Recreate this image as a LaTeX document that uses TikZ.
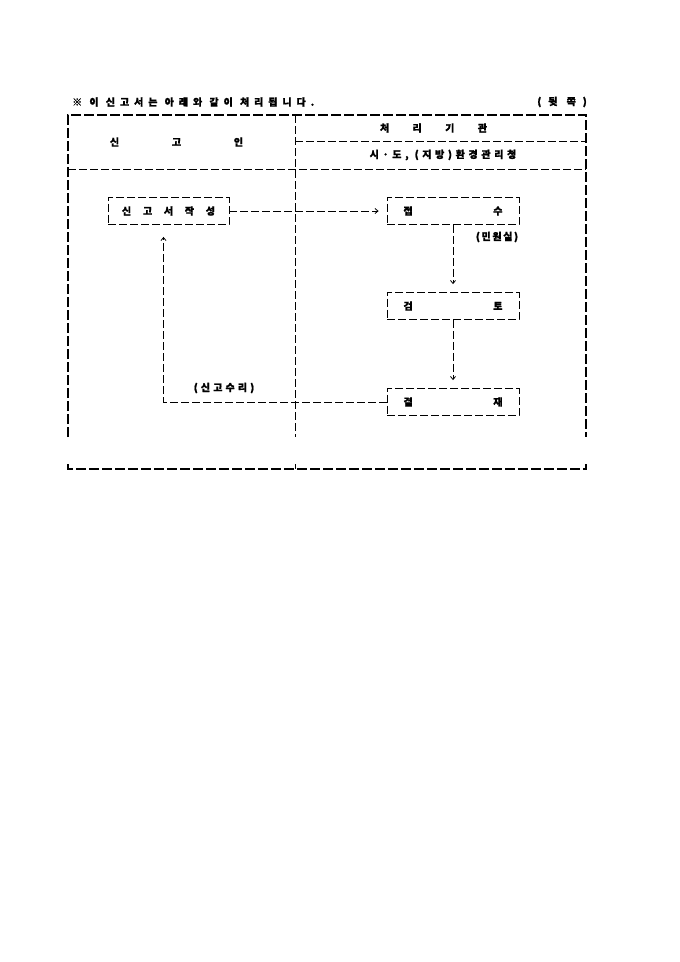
\documentclass[tikz,border=0pt]{standalone}
\usepackage{fontspec}
\newfontfamily\krn{Noto Sans CJK KR}[FakeBold=1.2]
\usetikzlibrary{arrows.meta,calc}
\begin{document}
\begin{tikzpicture}[x=1bp,y=-1bp,
  framest/.style={line width=1.7bp, dash pattern=on 10bp off 3bp},
  thinst/.style={line width=0.8bp, dash pattern=on 8bp off 3bp},
  boxst/.style={draw, line width=0.8bp, dash pattern=on 8bp off 3bp, minimum width=132bp, minimum height=27bp, inner sep=0pt, font=\krn\bfseries\fontsize{10}{12}\selectfont},
  lbl/.style={font=\krn\bfseries\fontsize{10}{12}\selectfont\addfontfeatures{LetterSpace=#1}, inner sep=0pt},
  lbn/.style={font=\krn\bfseries\fontsize{10}{12}\selectfont, inner sep=0pt},
  flow/.style={line width=0.8bp, dash pattern=on 8bp off 3bp, -{Straight Barb[length=3bp,width=5bp]}}]
\useasboundingbox (0,0) rectangle (680,962);
\fill[white] (0,0) rectangle (680,962);
% frame coordinates
\coordinate (TL) at (68,115);
\coordinate (TR) at (586,115);
\coordinate (LE) at (68,437);
\coordinate (RE) at (586,437);
\coordinate (BLt) at (68,464);
\coordinate (BL) at (68,469);
\coordinate (BR) at (586,469);
\coordinate (BRt) at (586,464);
\coordinate (MT) at (295,115);
\coordinate (ME) at (295,437);
\coordinate (MBt) at (295,464);
\coordinate (MB) at (295,469);
\coordinate (HS1) at (295,141);
\coordinate (HS2) at (586,141);
\coordinate (HB1) at (68,169);
\coordinate (HB2) at (586,169);
% frame
\draw[framest] (LE) -- (TL) -- (TR) -- (RE);
\draw[framest] (BLt) -- (BL) -- (BR) -- (BRt);
\draw[line width=0.8bp] (MBt) -- (MB);
\draw[thinst] (MT) -- (ME);
\draw[thinst] (HS1) -- (HS2);
\draw[thinst] (HB1) -- (HB2);
% texts
\node[lbl=50, anchor=west] (title) at (72,102) {※ 이 신고서는 아래와 같이 처리됩니다.};
\node[lbl=70, anchor=east] (side) at (587,102) {(뒷 쪽)};
\node[lbn] (hdrL) at (176.5,142) {\makebox[133bp][s]{신 고 인}};
\node[lbn] (hdrR) at (433.5,128) {\makebox[107bp][s]{처 리 기 관}};
\node[lbl=37] (hdrR2) at (443,155) {시·도, (지방)환경관리청};
% boxes
\node[boxst, minimum width=121bp] (write) at (168.5,211) {\makebox[93bp][s]{신 고 서 작 성}};
\node[boxst] (recv) at (453,211) {\makebox[99bp][s]{접 수}};
\node[boxst] (review) at (453,306) {\makebox[99bp][s]{검 토}};
\node[boxst] (approve) at (453,402) {\makebox[99bp][s]{결 재}};
\node[lbl=17] (office) at (497,237) {(민원실)};
\node[lbl=32] (accept) at (224,388) {(신고수리)};
% connectors
\draw[flow, shorten >=8bp] (write) -- (recv);
\draw[flow, shorten >=8bp] (recv) -- (review);
\draw[flow, shorten >=8bp] (review) -- (approve);
\draw[flow, shorten >=12bp] (approve.west) -| ([xshift=-5bp]write.south);
\end{tikzpicture}
\end{document}
